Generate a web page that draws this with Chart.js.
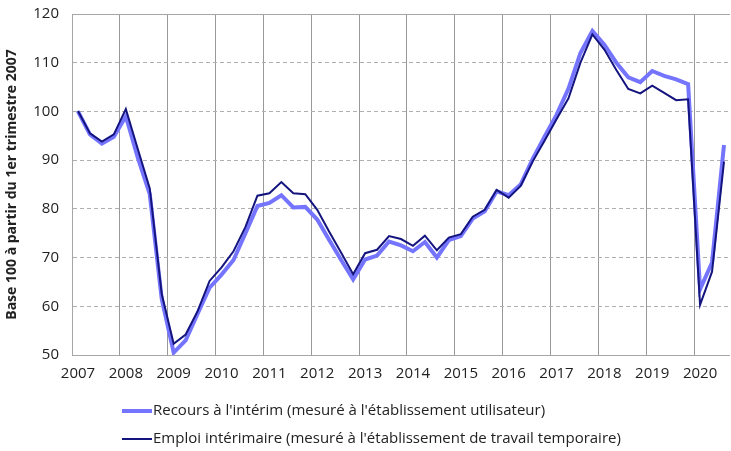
<!DOCTYPE html>
<html>
<head>
<meta charset="utf-8">
<script src="https://cdn.jsdelivr.net/npm/chart.js@4/dist/chart.umd.min.js"></script>
<style>
  html, body { margin: 0; padding: 0; overflow: hidden; background: #fff; }
  #wrap { position: relative; width: 734px; height: 451px; }
  .leg { position: absolute; left: 122px; font: 15px "Liberation Sans Narrow", "Open Sans", sans-serif; color: #222; white-space: nowrap; }
  .leg span.swatch { display: inline-block; width: 30px; vertical-align: middle; margin-right: 1px; }
</style>
</head>
<body>
<div id="wrap">
  <canvas id="chart" width="734" height="451"></canvas>
  <div class="leg" style="top:399px"><span class="swatch" style="border-top:4px solid #7474ff"></span>Recours à l'intérim (mesuré à l'établissement utilisateur)</div>
  <div class="leg" style="top:427px"><span class="swatch" style="border-top:2px solid #14147f"></span>Emploi intérimaire (mesuré à l'établissement de travail temporaire)</div>
</div>
<script>
// quarters 2007T1 .. 2020T3
var years = ['2007','2008','2009','2010','2011','2012','2013','2014','2015','2016','2017','2018','2019','2020'];
var quarters = [];
years.forEach(function(y) {
    for (var q = 1; q <= 4; q++) {
        if (y === '2020' && q > 3) break;
        quarters.push(y + ' T' + q);
    }
});

// Recours à l'intérim (établissement utilisateur)
var recours = [
    100, 95.3, 93.4, 94.8, 99, 90.5, 83, 61.5,
    50.5, 53, 58.5, 63.8, 66.5, 69.5, 75, 80.6,
    81.2, 82.8, 80.3, 80.4, 77.8, 73.6, 69.5, 65.5,
    69.6, 70.4, 73.3, 72.5, 71.3, 73.2, 70, 73.6,
    74.4, 78, 79.5, 83.6, 82.8, 85, 90.2, 94.8,
    99.3, 104.7, 112, 116.5, 113.7, 110, 107, 106,
    108.3, 107.3, 106.6, 105.6, 63.5, 69, 93.1
];

// Emploi intérimaire (établissement de travail temporaire)
var emploi = [
    100.1, 95.5, 93.8, 95.3, 100.5, 92.3, 84.2, 62.5,
    52.3, 54.2, 59, 65.2, 68, 71.3, 76.3, 82.7,
    83.2, 85.5, 83.2, 83, 79.8, 75.3, 71, 66.6,
    70.9, 71.6, 74.4, 73.8, 72.4, 74.5, 71.5, 74.1,
    74.8, 78.4, 79.8, 83.9, 82.3, 84.7, 89.7, 94,
    98.4, 102.7, 110, 115.8, 112.7, 108.5, 104.6, 103.7,
    105.3, 103.8, 102.3, 102.5, 60.3, 67.1, 89.7
];

var yMin = 50, yMax = 120, yStep = 10;
var fontFamily = '"Liberation Sans Narrow", "Open Sans", sans-serif';

// solid top edge of the plot area
var framePlugin = {
    id: 'frame',
    beforeDatasetsDraw: function(chart) {
        var a = chart.chartArea, ctx = chart.ctx;
        ctx.save();
        ctx.strokeStyle = '#a6a6a6';
        ctx.lineWidth = 1;
        ctx.beginPath();
        ctx.moveTo(a.left, a.top + 0.5);
        ctx.lineTo(a.right, a.top + 0.5);
        ctx.stroke();
        ctx.restore();
    }
};

new Chart(document.getElementById('chart'), {
    type: 'line',
    data: {
        labels: quarters,
        datasets: [{
            label: "Emploi intérimaire (mesuré à l'établissement de travail temporaire)",
            data: emploi,
            borderColor: '#14147f',
            borderWidth: 2,
            pointRadius: 0,
            tension: 0,
            order: 0
        }, {
            label: "Recours à l'intérim (mesuré à l'établissement utilisateur)",
            data: recours,
            borderColor: '#7474ff',
            borderWidth: 4,
            pointRadius: 0,
            tension: 0,
            order: 1
        }]
    },
    options: {
        responsive: false,
        animation: false,
        devicePixelRatio: 1,
        layout: { padding: { left: 4, top: 14, right: 0, bottom: 56 } },
        plugins: {
            legend: { display: false },
            tooltip: { enabled: false }
        },
        scales: {
            x: {
                type: 'category',
                offset: true,
                afterFit: function(scale) { scale.height = 40; },
                grid: {
                    offset: true,
                    drawTicks: false,
                    color: function(ctx) { return ctx.index % 4 === 0 ? '#999999' : 'rgba(0,0,0,0)'; },
                    lineWidth: 1
                },
                border: { color: '#a6a6a6', width: 1 },
                ticks: {
                    autoSkip: false,
                    maxRotation: 0,
                    padding: 10,
                    color: '#222',
                    font: { family: fontFamily, size: 15 },
                    callback: function(value, index) {
                        return index % 4 === 0 ? quarters[index].slice(0, 4) : '';
                    }
                }
            },
            y: {
                min: yMin,
                max: yMax,
                afterFit: function(scale) {
                    scale.width = 68;
                    scale.paddingTop = 0;
                    scale.paddingBottom = 0;
                },
                grid: {
                    drawTicks: false,
                    color: function(ctx) {
                        var v = ctx.tick ? ctx.tick.value : null;
                        return (v === yMin || v === yMax) ? 'rgba(0,0,0,0)' : '#b0b0b0';
                    },
                    lineWidth: 1
                },
                border: { color: '#a6a6a6', width: 1, dash: [4, 3] },
                ticks: {
                    stepSize: yStep,
                    padding: 13,
                    color: '#222',
                    font: { family: fontFamily, size: 15 }
                },
                title: {
                    display: true,
                    text: 'Base 100 à partir du 1er trimestre 2007',
                    color: '#222',
                    padding: { top: 0, bottom: 4 },
                    font: { family: fontFamily, size: 14, weight: 'bold' }
                }
            }
        }
    },
    plugins: [framePlugin]
});
</script>
</body>
</html>
